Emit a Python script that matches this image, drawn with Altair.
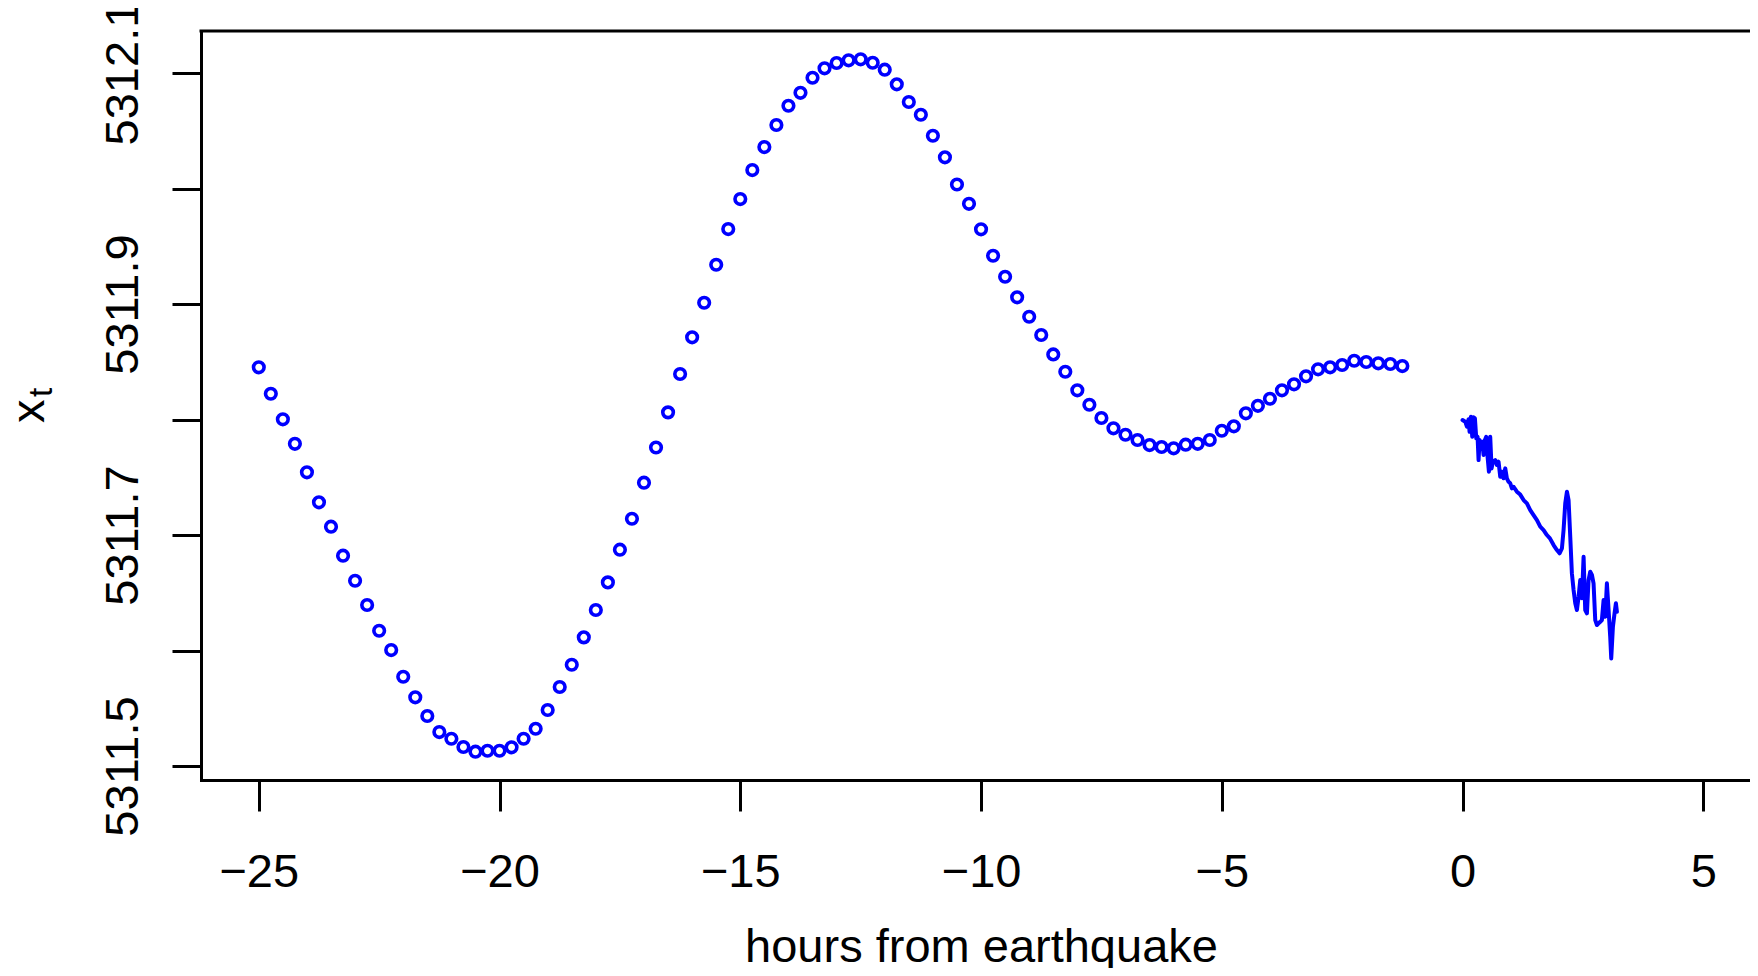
import altair as alt
import pandas as pd

# ---- data ----
point_hours = [-25 + 0.25 * i for i in range(96)]
point_values = [
    5311.8452, 5311.8223, 5311.8002, 5311.7790, 5311.7543, 5311.7283, 5311.7072, 5311.6821,
    5311.6604, 5311.6394, 5311.6171, 5311.6004, 5311.5773, 5311.5595, 5311.5433, 5311.5294,
    5311.5236, 5311.5165, 5311.5124, 5311.5132, 5311.5132, 5311.5162, 5311.5236, 5311.5323,
    5311.5485, 5311.5684, 5311.5877, 5311.6114, 5311.6351, 5311.6590, 5311.6873, 5311.7141,
    5311.7453, 5311.7758, 5311.8062, 5311.8394, 5311.8712, 5311.9011, 5311.9340, 5311.9649,
    5311.9909, 5312.0160, 5312.0359, 5312.0550, 5312.0717, 5312.0829, 5312.0959, 5312.1041,
    5312.1087, 5312.1110, 5312.1119, 5312.1089, 5312.1029, 5312.0902, 5312.0749, 5312.0639,
    5312.0457, 5312.0270, 5312.0035, 5311.9868, 5311.9647, 5311.9418, 5311.9236, 5311.9058,
    5311.8890, 5311.8732, 5311.8564, 5311.8414, 5311.8253, 5311.8128, 5311.8013, 5311.7924,
    5311.7868, 5311.7823, 5311.7779, 5311.7762, 5311.7751, 5311.7782, 5311.7790, 5311.7823,
    5311.7903, 5311.7941, 5311.8054, 5311.8119, 5311.8180, 5311.8253, 5311.8305, 5311.8374,
    5311.8435, 5311.8452, 5311.8472, 5311.8509, 5311.8498, 5311.8487, 5311.8481, 5311.8463,
]

line_hours = [
    0.000, 0.056, 0.091, 0.125, 0.146, 0.174, 0.201, 0.229, 0.257, 0.285, 0.312, 0.333,
    0.354, 0.381, 0.409, 0.437, 0.465, 0.492, 0.520, 0.548, 0.575, 0.603, 0.631, 0.679,
    0.714, 0.748, 0.783, 0.818, 0.852, 0.887, 0.921, 0.956, 0.991, 1.025, 1.060, 1.129,
    1.198, 1.268, 1.337, 1.406, 1.475, 1.545, 1.614, 1.683, 1.752, 1.815, 1.891, 1.960,
    2.015, 2.064, 2.098, 2.133, 2.168, 2.202, 2.237, 2.271, 2.306, 2.341, 2.375, 2.410,
    2.444, 2.479, 2.514, 2.548, 2.583, 2.617, 2.652, 2.687, 2.721, 2.756, 2.791, 2.825,
    2.860, 2.894, 2.929, 2.964, 2.998, 3.033, 3.067, 3.088, 3.123, 3.157, 3.185, 3.206,
]
line_values = [
    5311.7996, 5311.7981, 5311.7938, 5311.8002, 5311.7894, 5311.8024, 5311.7851, 5311.8019,
    5311.8010, 5311.7837, 5311.7851, 5311.7649, 5311.7823, 5311.7765, 5311.7808, 5311.7693,
    5311.7823, 5311.7851, 5311.7678, 5311.7548, 5311.7851, 5311.7577, 5311.7635, 5311.7649,
    5311.7606, 5311.7635, 5311.7505, 5311.7548, 5311.7491, 5311.7577, 5311.7491, 5311.7461,
    5311.7448, 5311.7404, 5311.7418, 5311.7375, 5311.7350, 5311.7303, 5311.7274, 5311.7216,
    5311.7173, 5311.7130, 5311.7072, 5311.7043, 5311.7000, 5311.6971, 5311.6913, 5311.6870,
    5311.6842, 5311.6885, 5311.7043, 5311.7274, 5311.7375, 5311.7303, 5311.6985, 5311.6668,
    5311.6524, 5311.6409, 5311.6351, 5311.6466, 5311.6610, 5311.6452, 5311.6812, 5311.6351,
    5311.6322, 5311.6610, 5311.6682, 5311.6654, 5311.6582, 5311.6264, 5311.6221, 5311.6235,
    5311.6249, 5311.6264, 5311.6437, 5311.6293, 5311.6582, 5311.6351, 5311.6119, 5311.5932,
    5311.6206, 5311.6322, 5311.6409, 5311.6336,
]

x_ticks = [-25, -20, -15, -10, -5, 0, 5]
y_ticks = [5311.5, 5311.6, 5311.7, 5311.8, 5311.9, 5312.0, 5312.1]
x_title = "hours from earthquake"
y_title_main = "x"
y_title_sub = "t"

# ---- layout ----
PAD_L = 193
W = 1549          # svg width = PAD_L + W = 1742 (fits the page body, no shrinking)
H = 749
FONT = "Liberation Sans"
FS = 47
BLUE = "#0000FF"

x_scale = alt.Scale(domain=[-26.2, 5.97], nice=False, zero=False)
y_scale = alt.Scale(domain=[5311.4879, 5312.1364], nice=False, zero=False)

x_axis = alt.Axis(
    values=x_ticks, format="d", grid=False,
    domain=True, domainColor="black", domainWidth=3, domainCap="square",
    ticks=True, tickColor="black", tickWidth=3, tickSize=31,
    labelFont=FONT, labelFontSize=FS, labelColor="black",
    labelBaseline="alphabetic", labelPadding=75, labelFlush=False, labelOverlap=False,
    title=x_title, titleFont=FONT, titleFontSize=FS, titleFontWeight="normal",
    titleColor="black", titleX=780, titleY=181, titleAlign="center",
    titleBaseline="alphabetic", titleAnchor="start",
)
y_axis = alt.Axis(
    values=y_ticks, grid=False,
    domain=True, domainColor="black", domainWidth=3, domainCap="square",
    ticks=True, tickColor="black", tickWidth=3, tickSize=29,
    labelFont=FONT, labelFontSize=FS, labelColor="black",
    labelAngle=270, labelAlign="center", labelBaseline="alphabetic",
    labelPadding=35, labelFlush=False, labelOverlap=False,
    labelExpr="(round(datum.value*10) % 2 == 1) ? format(datum.value, '.1f') : ''",
    title=None,
)

pts = pd.DataFrame({"hours": point_hours, "xt": point_values})
lin = pd.DataFrame({"hours": line_hours, "xt": line_values})

points = alt.Chart(pts).mark_point(
    shape="circle", filled=False, size=112, strokeWidth=3.6, color=BLUE, opacity=1
).encode(
    x=alt.X("hours:Q", scale=x_scale, axis=x_axis),
    y=alt.Y("xt:Q", scale=y_scale, axis=y_axis),
)

line = alt.Chart(lin).mark_line(
    color=BLUE, strokeWidth=4, strokeJoin="round", strokeCap="round"
).encode(
    x=alt.X("hours:Q", scale=x_scale),
    y=alt.Y("xt:Q", scale=y_scale),
)

one = pd.DataFrame({"k": [0]})
top_rule = alt.Chart(one).mark_rule(color="black", strokeWidth=3, strokeCap="square").encode(
    x=alt.value(0), x2=alt.value(W), y=alt.value(0)
)

ylab_x = alt.Chart(one).mark_text(
    text=y_title_main, font=FONT, fontSize=FS, angle=270, align="left",
    baseline="alphabetic", color="black"
).encode(x=alt.value(-157), y=alt.value(392))

ylab_t = alt.Chart(one).mark_text(
    text=y_title_sub, font=FONT, fontSize=33, angle=270, align="left",
    baseline="alphabetic", color="black"
).encode(x=alt.value(-149), y=alt.value(366))

chart = alt.layer(points, line, top_rule, ylab_x, ylab_t).properties(
    width=W, height=H,
    autosize=alt.AutoSizeParams(type="none"),
    padding={"left": PAD_L, "top": 23, "right": 0, "bottom": 188},
).configure_view(stroke=None).configure(background="white")

chart.save("out.html", embed_options={"renderer": "svg", "actions": False})
